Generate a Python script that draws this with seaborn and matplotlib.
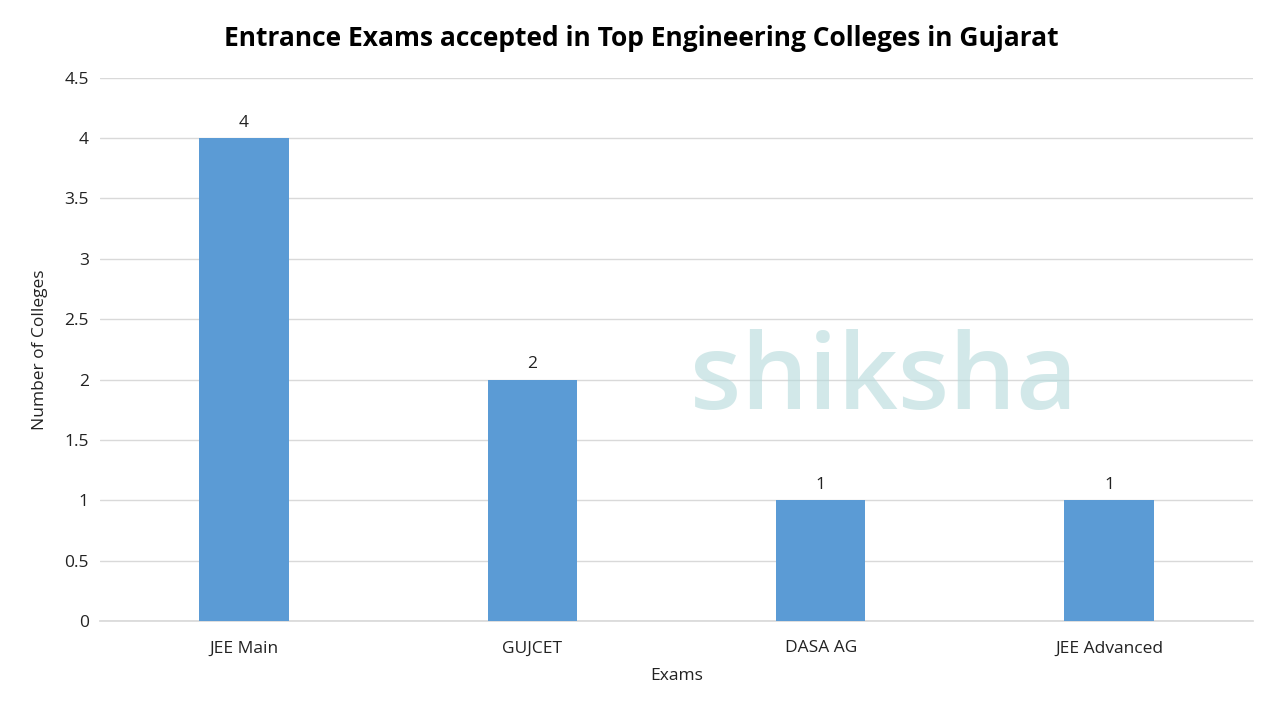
import matplotlib
matplotlib.use("Agg")
import matplotlib.pyplot as plt
import seaborn as sns
import pandas as pd

exams = ["JEE Main", "GUJCET", "DASA AG", "JEE Advanced"]
colleges = [4, 2, 1, 1]
yticks = [0, 0.5, 1, 1.5, 2, 2.5, 3, 3.5, 4, 4.5]

sns.set_theme(style="white")
plt.rcParams['font.family'] = ['Open Sans', 'DejaVu Sans']

df = pd.DataFrame({"Exams": exams, "Colleges": colleges})
fig = plt.figure(figsize=(12.8, 7.2), dpi=100)
ax = fig.add_axes([0.078, 0.1375, 0.901, 0.7545])
sns.barplot(data=df, x="Exams", y="Colleges", color="#5B9BD5", width=0.31, saturation=1,
            linewidth=0, ax=ax, zorder=3)
ax.set_ylim(0, 4.5)
ax.set_yticks(yticks)
ax.set_yticklabels([f"{t:g}" for t in yticks])
ax.grid(axis="y", color="#D9D9D9", linewidth=1, zorder=0)
for s in ["top", "right", "left"]:
    ax.spines[s].set_visible(False)
ax.spines["bottom"].set_color("#D9D9D9")
ax.tick_params(axis="y", length=0, labelsize=12.5, colors="#222222", pad=8)
ax.tick_params(axis="x", length=0, labelsize=12.5, colors="#222222", pad=14)
ax.set_xlabel("Exams", fontsize=12.5, color="#222222", labelpad=8)
ax.set_ylabel("Number of Colleges", fontsize=12.5, color="#222222", labelpad=12)
for i, v in enumerate(colleges):
    ax.text(i, v + 0.06, f"{v}", ha="center", va="bottom", fontsize=12.5, color="#222222")
fig.text(0.501, 0.947, "Entrance Exams accepted in Top Engineering Colleges in Gujarat",
         ha="center", va="center", fontsize=19, fontweight="bold", color="black")
fig.text(0.69, 0.47, "shiksha", ha="center", va="center", fontsize=76, fontweight="semibold",
         color="#B5DADB", alpha=0.6, zorder=0)
fig.savefig("out.png", dpi=100)
